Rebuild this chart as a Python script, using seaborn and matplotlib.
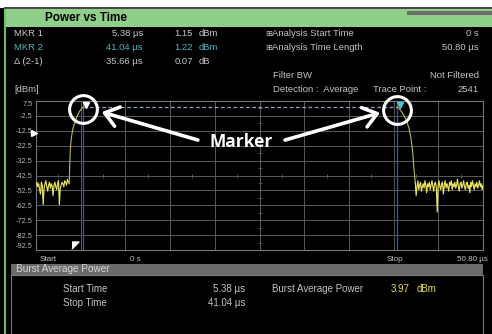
import numpy as np
import pandas as pd
import seaborn as sns
import matplotlib.pyplot as plt
from matplotlib.patches import Rectangle

# trace: time in us, level in dBm
span_us = 50.8
noise_left_us = (0.0, 3.78)
noise_left_dbm = [-49, -47, -50, -48, -52, -55, -47, -49, -62, -51, -48, -46, -50,
                  -53, -49, -47, -51, -48, -50, -56, -49, -47, -50, -52, -48, -46,
                  -62, -51, -49, -47, -48, -50, -46, -47, -49, -45, -47, -48]
rise_us = [3.78, 3.82, 3.88, 3.95, 4.05, 4.2, 4.4, 4.65, 4.95, 5.38]
rise_dbm = [-48, -38, -28, -21, -16, -11, -7, -3, 0.5, 3.8]
top_us = [5.38, 41.04]
top_dbm = [3.8, 3.8]
fall_us = [41.04, 41.4, 41.8, 42.1, 42.4, 42.6, 42.8, 42.95, 43.1]
fall_dbm = [3.8, 1.5, -2, -5.5, -11, -17, -26, -38, -47]
noise_right_us = (43.1, 50.8)
noise_right_dbm = [-47, -56, -50, -46, -52, -49, -47, -53, -50, -48,
                   -51, -46, -49, -54, -48, -50, -47, -52, -49, -46,
                   -50, -53, -48, -47, -51, -67, -49, -46, -50, -52,
                   -48, -47, -55, -49, -46, -51, -48, -50, -53, -47,
                   -49, -46, -52, -48, -50, -47, -51, -49, -45, -50,
                   -53, -48, -47, -51, -49, -46, -50, -52, -48, -47,
                   -51, -49, -54, -47, -50, -46, -49, -52, -48, -50,
                   -47, -51, -49, -46, -50, -48, -52, -49]

marker_us = [5.38, 41.04]
marker_colors = ['white', '#3ec8d8']
trig_level_dbm = -14
trig_pos_us = 4.43

y_ticks = [7.5, -2.5, -12.5, -22.5, -32.5, -42.5, -52.5, -62.5, -72.5, -82.5, -92.5]
x_div = 10

W, H = 492, 334
GREY = '#c4c4c4'
GRID = '#5a5a5a'
YELLOW = '#e8e35e'
EDGE = '#b3ad55'

sns.set_style('dark')
plt.rcParams['font.family'] = ['Liberation Sans', 'DejaVu Sans']


def fx(x):
    return x / W


def fy(y):
    return 1 - y / H


def box(fig, x0, y0, x1, y1, fc, ec='none', lw=0):
    fig.patches.append(Rectangle((fx(x0), fy(y1)), fx(x1) - fx(x0), fy(y0) - fy(y1),
                                 transform=fig.transFigure, fc=fc, ec=ec, lw=lw))


def label(fig, x, y, s, ha='left', color=GREY, size=6.8, **kw):
    fig.text(fx(x), fy(y), s, ha=ha, va='center', color=color, fontsize=size, **kw)


fig = plt.figure(figsize=(W / 100, H / 100), dpi=100, facecolor='black')

# frame
box(fig, 0, 0, W, 8, 'white')
box(fig, 4, 7, W, 9, '#4a4a4a')
box(fig, 4, 9, W, 27, '#8fcf8a')
box(fig, 407, 11, W, 15, '#6c6c6c')
box(fig, 4, 9, 5.5, H, '#6fbf6a')
box(fig, 11, 264, 483, 275, '#6a6a6a')
box(fig, 11, 275, 483, H + 2, 'black', ec='#777777', lw=0.8)

label(fig, 45, 18, 'Power vs Time', color='black', size=8.5, weight='bold')

# marker readout
rows = [('MKR 1', '5.38 µs', '1.15', 'dBm', GREY),
        ('MKR 2', '41.04 µs', '1.22', 'dBm', '#45b9b9'),
        ('Δ (2-1)', '35.66 µs', '0.07', 'dB', GREY)]
for i, (name, t, v, u, c) in enumerate(rows):
    y = 33.5 + 14 * i
    label(fig, 14, y, name, color=c)
    label(fig, 143, y, t, ha='right', color=c)
    label(fig, 193, y, v, ha='right', color=c)
    label(fig, 199, y, u, color=c)
label(fig, 14, 89, '[dBm]')

label(fig, 265, 33.5, '⊞', size=6, family='DejaVu Sans')
label(fig, 272, 33.5, 'Analysis Start Time')
label(fig, 479, 33.5, '0 s', ha='right')
label(fig, 265, 47.5, '⊞', size=6, family='DejaVu Sans')
label(fig, 272, 47.5, 'Analysis Time Length')
label(fig, 479, 47.5, '50.80 µs', ha='right')
label(fig, 273, 75, 'Filter BW')
label(fig, 479, 75, 'Not Filtered', ha='right')
label(fig, 273, 89, 'Detection :  Average')
label(fig, 373, 89, 'Trace Point :')
label(fig, 479, 89, '2541', ha='right')

# trace panel
ax = fig.add_axes([fx(36), fy(250), fx(483) - fx(36), fy(101) - fy(250)])
ax.set_facecolor('black')

trace = pd.concat([
    pd.DataFrame({'t': np.linspace(*noise_left_us, len(noise_left_dbm)),
                  'p': noise_left_dbm, 'part': 'noise_l'}),
    pd.DataFrame({'t': rise_us, 'p': rise_dbm, 'part': 'rise'}),
    pd.DataFrame({'t': fall_us, 'p': fall_dbm, 'part': 'fall'}),
    pd.DataFrame({'t': np.linspace(*noise_right_us, len(noise_right_dbm)),
                  'p': noise_right_dbm, 'part': 'noise_r'}),
])
top = pd.DataFrame({'t': top_us, 'p': top_dbm})

for m in marker_us:
    ax.axvline(m, color='#2f55c8', lw=0.9, zorder=2)
sns.lineplot(data=trace, x='t', y='p', hue='part', ax=ax, lw=0.85,
             palette={'noise_l': YELLOW, 'rise': EDGE, 'fall': EDGE, 'noise_r': YELLOW},
             units='part', estimator=None, sort=False, legend=False, zorder=3)
sns.lineplot(data=top, x='t', y='p', ax=ax, color='#8d9cc0', lw=0.9,
             ls=(0, (3, 2)), estimator=None, zorder=3)

ax.set_xlim(0, span_us)
ax.set_ylim(min(y_ticks), max(y_ticks))
ax.set_xticks(np.linspace(0, span_us, x_div + 1))
ax.set_yticks(y_ticks)
ax.set_xticklabels([])
ax.set_yticklabels([f'{v:g}' for v in y_ticks])
ax.tick_params(length=0, pad=2.5, labelsize=5.3, labelcolor='#b4b4b4')
ax.get_yticklabels()[0].set_va('top')
ax.get_yticklabels()[-1].set_va('bottom')
ax.grid(True, color=GRID, lw=0.7)
ax.set_xlabel('')
ax.set_ylabel('')
for s in ax.spines.values():
    s.set_color('#777777')
    s.set_linewidth(0.8)

# center crosshair ticks
half_x = np.arange(0.5, x_div) * span_us / x_div
half_y = [v - 5 for v in y_ticks[:-1]]
ax.plot(half_x, [-42.5] * len(half_x), ls='none', marker='|', ms=3, mew=0.6, color=GRID)
ax.plot([span_us / 2] * len(half_y), half_y, ls='none', marker='_', ms=3, mew=0.6, color=GRID)

# markers and trigger flags
for m, c in zip(marker_us, marker_colors):
    ax.plot(m + 0.3, top_dbm[0] + 0.8, marker='v', ms=4.5, color=c, zorder=5)
ax.plot(-0.25, trig_level_dbm, marker='>', ms=4, color='white', clip_on=False, zorder=5)
ax.plot(trig_pos_us, -89, marker=[(-1, 1), (1, 1), (-1, -1)], ms=5, color='white', zorder=5)

# callout
for m, y in zip(marker_us, [2.1, 1.5]):
    ax.plot(m, y, marker='o', ms=20, mfc='none', mec='white', mew=2.2,
            clip_on=False, zorder=6)
arrow = dict(arrowstyle='->,head_length=0.6,head_width=0.45', color='white', lw=2.6,
             mutation_scale=16, shrinkA=0, shrinkB=0)
ax.annotate('', xy=(7.47, 0.1), xytext=(18.4, -18.7), arrowprops=arrow, zorder=6)
ax.annotate('', xy=(39.1, -0.4), xytext=(28.3, -18.7), arrowprops=arrow, zorder=6)
ax.text(23.3, -19.8, 'Marker', ha='center', va='center', color='white', fontsize=12.5,
        weight='bold', family=['Open Sans', 'DejaVu Sans'], zorder=6)

label(fig, 40, 259.5, 'Start', size=5.8)
label(fig, 130, 259.5, '0 s', size=5.8)
label(fig, 387, 259.5, 'Stop', size=5.8)
label(fig, 488, 259.5, '50.80 µs', ha='right', size=5.8)

# burst summary
label(fig, 16, 269.5, 'Burst Average Power', color='#d6d6d6', size=7.2)
label(fig, 63, 288.5, 'Start Time', size=7)
label(fig, 245, 288.5, '5.38 µs', ha='right', size=7)
label(fig, 63, 302.5, 'Stop Time', size=7)
label(fig, 245, 302.5, '41.04 µs', ha='right', size=7)
label(fig, 272, 288.5, 'Burst Average Power', size=7)
label(fig, 410, 288.5, '3.97', ha='right', color='#e6e04a', size=7)
label(fig, 417, 288.5, 'dBm', color='#e6e04a', size=7)

fig.savefig('out.png', dpi=100, facecolor='black')
